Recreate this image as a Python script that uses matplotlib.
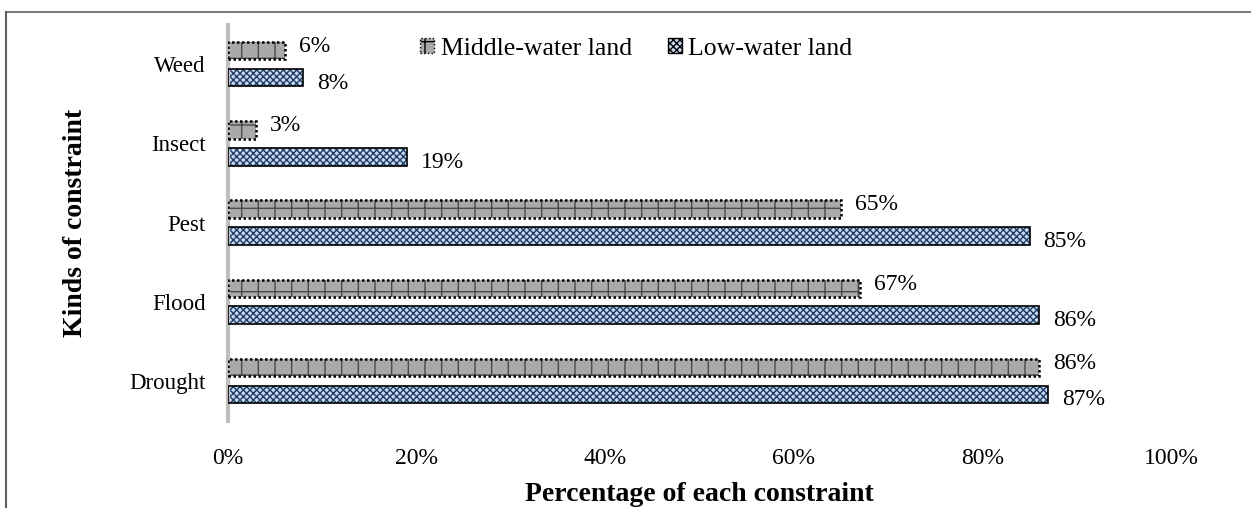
import matplotlib
matplotlib.use("Agg")
import matplotlib.pyplot as plt
from matplotlib.lines import Line2D
from matplotlib.patches import Patch
import numpy as np

categories = ["Drought", "Flood", "Pest", "Insect", "Weed"]
middle_water = [0.86, 0.67, 0.65, 0.03, 0.06]
low_water = [0.87, 0.86, 0.85, 0.19, 0.08]
x_ticks = [0, 0.2, 0.4, 0.6, 0.8, 1.0]
x_tick_labels = ["0%", "20%", "40%", "60%", "80%", "100%"]

plt.rcParams["font.family"] = ["Liberation Serif", "DejaVu Serif"]
plt.rcParams["hatch.linewidth"] = 1.0

fig = plt.figure(figsize=(12.51, 5.08), dpi=100)
ax = fig.add_axes([0.1823, 0.1722, 0.7538, 0.7795])

y = np.arange(len(categories))
h = 0.22
off = 0.17

# middle-water land: grey bricks with dotted border
ax.barh(y + off, middle_water, height=h, color="#a9a9a9", edgecolor="#4a4a4a",
        hatch="+", linewidth=0, zorder=2)
ax.barh(y + off, middle_water, height=h, fill=False, edgecolor="black",
        linestyle=(0, (1, 1)), linewidth=1.8, zorder=3)

# low-water land: light blue checker with solid border
ax.barh(y - off, low_water, height=h, color="#c6d9f1", edgecolor="#1f3a64",
        hatch="xxxxx", linewidth=0, zorder=2)
ax.barh(y - off, low_water, height=h, fill=False, edgecolor="black",
        linewidth=1.2, zorder=3)

for i in range(len(categories)):
    ax.annotate(f"{middle_water[i]*100:.0f}%", (middle_water[i], y[i] + off),
                xytext=(10, 3), textcoords="offset points",
                ha="left", va="center", fontsize=17)
    ax.annotate(f"{low_water[i]*100:.0f}%", (low_water[i], y[i] - off),
                xytext=(10, -4), textcoords="offset points",
                ha="left", va="center", fontsize=17)

ax.set_xlim(0, 1.0)
ax.set_ylim(-0.5, 4.5)
ax.set_xticks(x_ticks)
ax.set_xticklabels(x_tick_labels, fontsize=17)
ax.set_yticks(y)
ax.set_yticklabels(categories, fontsize=16.5)
ax.tick_params(axis="y", length=0, pad=16)
ax.tick_params(axis="x", length=0, pad=20)

for s in ["top", "right", "bottom"]:
    ax.spines[s].set_visible(False)
ax.spines["left"].set_color("#bfbfbf")
ax.spines["left"].set_linewidth(3)

ax.set_xlabel("Percentage of each constraint", fontsize=20, fontweight="bold", labelpad=9)
ax.set_ylabel("Kinds of constraint", fontsize=20, fontweight="bold", labelpad=30)

handles = [
    Patch(facecolor="#a9a9a9", edgecolor="black", hatch="+", linestyle=":", label="Middle-water land"),
    Patch(facecolor="#c6d9f1", edgecolor="black", hatch="xxxxx", label="Low-water land"),
]
ax.legend(handles=handles, loc="upper center", bbox_to_anchor=(0.433, 1.025), ncol=2,
          frameon=False, fontsize=18.5, handlelength=0.55, handleheight=0.55,
          handletextpad=0.25, columnspacing=1.4)

# outer frame (partially visible)
fig.add_artist(Line2D([6 / 1251, 1.0], [1 - 12 / 508, 1 - 12 / 508], color="#7f7f7f", linewidth=1.5))
fig.add_artist(Line2D([6 / 1251, 6 / 1251], [1 - 12 / 508, 0], color="#5f5f5f", linewidth=1.5))

fig.savefig("out.png", dpi=100)
